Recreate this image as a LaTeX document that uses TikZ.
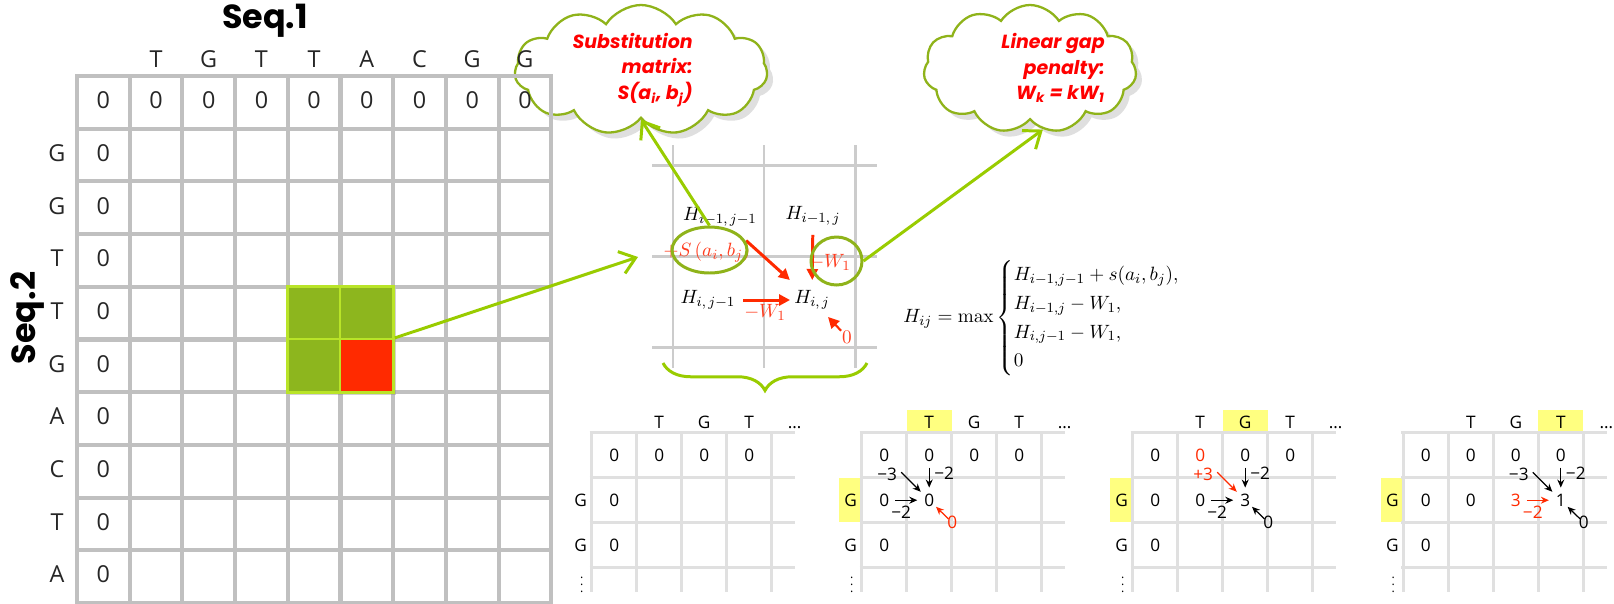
\documentclass[tikz,border=0pt]{standalone}
\usepackage{amsmath}
\usepackage[no-math]{fontspec}
\setmainfont{Open Sans}
\newfontfamily\gothic{Poppins}
\usetikzlibrary{arrows.meta, shapes.geometric, shapes.symbols, decorations.pathreplacing, shadows}
\definecolor{gridgray}{RGB}{192,192,192}
\definecolor{midgray}{RGB}{204,204,204}
\definecolor{pgray}{RGB}{224,224,224}
\definecolor{lgreen}{RGB}{153,204,0}
\definecolor{cgreen}{RGB}{141,182,30}
\definecolor{bgreen}{RGB}{185,228,40}
\definecolor{ogreen}{RGB}{143,179,26}
\definecolor{ored}{RGB}{255,42,0}
\definecolor{lred}{RGB}{255,60,30}
\definecolor{txtred}{RGB}{255,0,0}
\definecolor{hlyellow}{RGB}{255,255,128}

\begin{document}
\begin{tikzpicture}[x=0.02cm, y=-0.02cm,
  bgrid/.style={gridgray, line width=2.3pt, line cap=rect},
  mgrid/.style={midgray, line width=1.7pt},
  pgrid/.style={pgray, line width=1.5pt},
  btxt/.style={font=\fontsize{13.3}{16}\selectfont, text=black!85, inner sep=0pt, text height=0.72em, text depth=0pt},
  ptxt/.style={font=\fontsize{9.8}{12}\selectfont, inner sep=0pt, text height=0.72em, text depth=0pt},
  seqtxt/.style={font=\gothic\bfseries\fontsize{19}{22}\selectfont, inner sep=0pt},
  htxt/.style={font=\fontsize{11}{13}\selectfont, inner sep=0pt},
  rtxt/.style={htxt, text=lred},
  gcell/.style={fill=cgreen, draw=bgreen, line width=1.4pt, minimum size=1.07cm, inner sep=0pt,
                drop shadow={opacity=0.35, shadow xshift=0.5mm, shadow yshift=-0.5mm}},
  rcell/.style={gcell, fill=ored},
  garr/.style={lgreen, line width=1.7pt, -{Straight Barb[length=3mm,width=4.6mm]}},
  rarr/.style={ored, line width=1.7pt, -{Triangle[length=2.2mm,width=2.2mm]}},
  parr/.style={line width=0.7pt, -{Stealth[length=1.6mm,width=1.4mm]}},
  oval/.style={ellipse, draw=ogreen, line width=1.7pt, inner sep=0pt},
  bubble/.style={cloud, cloud puffs=11, cloud puff arc=115, cloud ignores aspect, draw=ogreen,
                 line width=1.3pt, fill=white, drop shadow={opacity=0.25, shadow xshift=1.2mm, shadow yshift=-1.2mm}},
  bubtxt/.style={font=\gothic\bfseries\itshape\fontsize{10.8}{14.5}\selectfont, text=txtred, align=right, inner sep=0pt},
  hl/.style={fill=hlyellow}
]
\fill[white] (0,0) rectangle (1614,603);
\useasboundingbox (0,0) rectangle (1614,603);

% clouds (under the matrix edge)
\node[bubble, minimum width=5.06cm, minimum height=2.6cm] (c1) at (641,70) {};
\node[bubtxt, anchor=east] (t1) at (693,70) {Substitution\\matrix:\\S(a\textsubscript{i}, b\textsubscript{j})};
\node[bubble, minimum width=4.26cm, minimum height=2.56cm] (c2) at (1030,69) {};
\node[bubtxt, anchor=east] (t2) at (1105,68) {Linear gap\\penalty:\\W\textsubscript{k} = kW\textsubscript{1}};

% big matrix
\foreach \c in {0,...,9} \draw[bgrid] (77+52.7*\c,76) -- (77+52.7*\c,610);
\foreach \r in {0,...,10} \draw[bgrid] (77,76+52.7*\r) -- (551.3,76+52.7*\r);
\foreach \b [count=\c] in {T,G,T,T,A,C,G,G} \node[btxt] at (77+52.7*\c+26.35,61) {\b};
\foreach \c in {0,...,8} \node[btxt] at (77+52.7*\c+26.35,102.35) {0};
\foreach \b [count=\r] in {G,G,T,T,G,A,C,T,A} {
  \node[btxt] at (57,76+52.7*\r+26.35) {\b};
  \node[btxt] at (103.35,76+52.7*\r+26.35) {0};
}
\node[seqtxt] (seq1) at (265,21) {Seq.1};
\node[seqtxt, rotate=90] (seq2) at (27,318) {Seq.2};

\node[gcell] (c44) at (314.15,313.15) {};
\node[gcell] (c45) at (366.85,313.15) {};
\node[gcell] (c54) at (314.15,365.85) {};
\node[rcell] (cur) at (366.85,365.85) {};

% recurrence cell
\foreach \v in {673,764,855} \draw[mgrid] (\v,145) -- (\v,368);
\foreach \h in {165,256,347} \draw[mgrid] (652,\h) -- (877,\h);
\coordinate (mL) at (638,257);

\node[htxt] (hd) at (720,217) {$H_{i-1,\,j-1}$};
\node[htxt] (hu) at (813,216) {$H_{i-1,\,j}$};
\node[htxt] (hl) at (708,300) {$H_{i,\,j-1}$};
\node[htxt] (hij) at (812,300) {$H_{i,\,j}$};
\node[rtxt] (sab) at (707,252) {$+S\left(a_i,b_j\right)$};
\node[rtxt] (wu) at (830,262) {$-W_1$};
\node[rtxt] (wl) at (765,312) {$-W_1$};
\node[rtxt] (z0) at (847,337) {$0$};

\draw[rarr, shorten <=20pt, shorten >=17pt] (hd.center) -- (hij.center);
\draw[rarr, shorten <=10.8pt, shorten >=11.4pt] (hu.center) -- (hij.center);
\draw[rarr, shorten <=20pt, shorten >=12.5pt] (hl.center) -- (hij.center);
\draw[rarr, line width=1.2pt, shorten <=4.9pt, shorten >=13.3pt] (z0.center) -- (hij.center);

\node[oval, minimum width=1.5cm, minimum height=0.92cm] (e1) at (709.5,250) {};
\node[oval, minimum width=1.02cm, minimum height=0.96cm] (e2) at (836.5,261) {};

\draw[lgreen, line width=1.7pt, decorate, decoration={brace, amplitude=0.55cm, aspect=0.5}]
  (867,363) -- (663,363);

\draw[garr] (cur.north east) -- (mL);
\draw[garr] (e1.north) -- (c1.south);
\draw[garr] (e2.east) -- (c2.-78);

% formula
\node[font=\fontsize{11}{13.6}\selectfont, anchor=west, inner sep=0pt] (hmax) at (903,318)
  {$H_{ij} = \max\begin{cases} H_{i-1,j-1} + s(a_i,b_j), \\ H_{i-1,j} - W_1, \\ H_{i,j-1} - W_1, \\ 0 \end{cases}$};

% worked example
\foreach \x/\k in {861.7/1,1132.7/2,1403.3/3} {
  \fill[hl] (\x+45*\k,410) rectangle (\x+45*\k+45,430.7);
  \fill[hl] (\x-22.7,477.7) rectangle (\x-1,522.3);
}
\foreach \p/\x/\rc in {1/591.7/black,2/861.7/black,3/1132.7/ored,4/1403.3/black} {
  \foreach \k in {0,...,4} \draw[pgrid] (\x+45*\k,432.7) -- (\x+45*\k,592);
  \foreach \r in {0,...,3} \draw[pgrid] (\x-2,432.7+45*\r) -- (\x+203.5,432.7+45*\r);
  \foreach \b [count=\k] in {T,G,T} \node[ptxt] at (\x+45*\k+22.5,421.7) {\b};
  \node[ptxt] at (\x+203,421.7) {\ldots};
  \foreach \k in {0,2,3} \node[ptxt] (p\p-0-\k) at (\x+45*\k+22.5,455.2) {0};
  \node[ptxt, text=\rc] (p\p-0-1) at (\x+67.5,455.2) {0};
  \foreach \r in {1,2} {
    \node[ptxt] at (\x-11,432.7+45*\r+22.5) {G};
    \node[ptxt] (p\p-\r-0) at (\x+22.5,432.7+45*\r+22.5) {0};
  }
  \node[ptxt, font=\scriptsize] at (\x-10,586) {$\vdots$};
}
\node[ptxt] (p3-1-1) at (1200.2,500.2) {0};
\node[ptxt] (p4-1-1) at (1470.8,500.2) {0};
\node[ptxt, text=ored] (p4-1-2) at (1515.8,500.2) {3};

\foreach \p/\cx/\k/\v/\dc/\dl/\lc/\zc [evaluate=\k as \km using int(\k-1)] in
  {2/929.2/1/0/black/{−3}/black/ored, 3/1245.2/2/3/ored/{+3}/black/black, 4/1560.8/3/1/black/{−3}/ored/black} {
  \node[ptxt] (p\p-1-\k) at (\cx,500.2) {\v};
  \node[ptxt, text=\dc] at (\cx-42,474.5) {\dl};
  \node[ptxt] at (\cx+15,473) {−2};
  \node[ptxt, text=\lc] at (\cx-28,512) {−2};
  \node[ptxt, text=\zc] (p\p-z) at (\cx+23,522.5) {0};
  \draw[parr, color=\dc, shorten <=13.7pt, shorten >=6.8pt] (p\p-0-\km.center) -- (p\p-1-\k.center);
  \draw[parr, shorten <=7pt, shorten >=7.2pt] (p\p-0-\k.center) -- (p\p-1-\k.center);
  \draw[parr, color=\lc, shorten <=6.3pt, shorten >=6.8pt] (p\p-1-\km.center) -- (p\p-1-\k.center);
  \draw[parr, color=\zc, shorten <=3pt, shorten >=5.4pt] (p\p-z.center) -- (p\p-1-\k.center);
}
\end{tikzpicture}
\end{document}
